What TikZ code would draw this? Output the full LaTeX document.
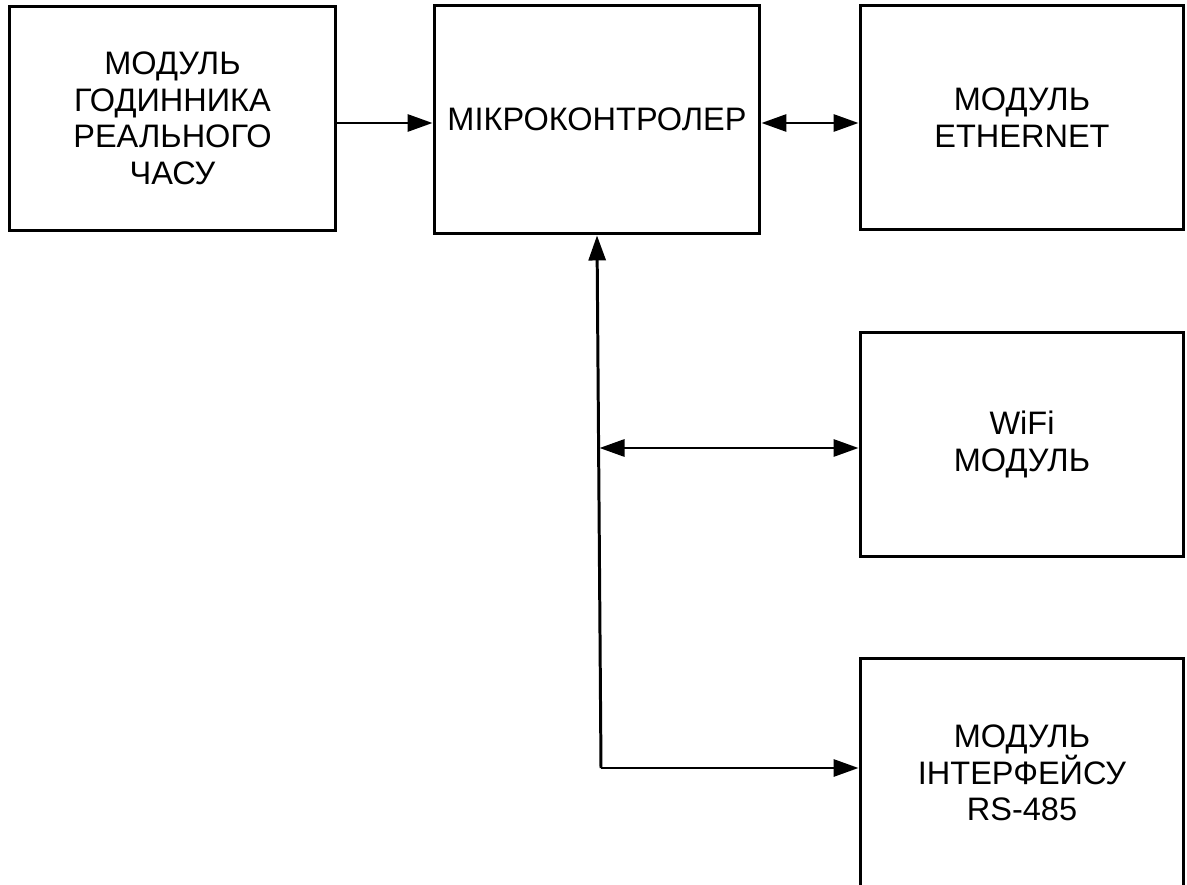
\documentclass[tikz,border=0pt]{standalone}
\usepackage{fontspec}
\setmainfont{Liberation Sans}
\usepackage{tikz}
\usetikzlibrary{arrows.meta, positioning}

\begin{document}
\begin{tikzpicture}[x=0.02cm, y=-0.02cm,
		block/.style={draw, line width=1.7pt, rectangle, align=center, inner sep=0pt,
			font=\fontsize{18.5}{20.8}\selectfont},
		link/.style={line width=1.7pt, -{Triangle[length=0.5cm, width=0.34cm]}},
		bothlink/.style={line width=1.7pt, {Triangle[length=0.5cm, width=0.34cm]}-{Triangle[length=0.5cm, width=0.34cm]}}]
		\useasboundingbox (0,0) rectangle (1187,885);
		\clip (0,0) rectangle (1187,885);
		% blocks
		\node [block, minimum width=6.54cm, minimum height=4.5cm] (rtc) at (172.5,118.5) {МОДУЛЬ\\ГОДИННИКА\\РЕАЛЬНОГО\\ЧАСУ};
		\node [block, minimum width=6.52cm, minimum height=4.58cm] (mcu) at (597,119.5) {МІКРОКОНТРОЛЕР};
		\node [block, minimum width=6.48cm, minimum height=4.5cm] (eth) at (1022,117.5) {МОДУЛЬ\\ETHERNET};
		\node [block, minimum width=6.48cm, minimum height=4.5cm] (wifi) at (1022,444.5) {WiFi\\МОДУЛЬ};
		\node [block, minimum width=6.48cm, minimum height=4.6cm] (rs) at (1022,773) {МОДУЛЬ\\ІНТЕРФЕЙСУ\\RS-485};
		% bus
		\coordinate (bus) at (601,768);
		\coordinate (tap) at (599.5,448);
		\coordinate (out) at ([yshift=-0.09cm]rtc.east);
		\coordinate (mid) at ([yshift=-0.07cm]mcu.east);
		\draw [link] (out) -- (out -| mcu.west);
		\draw [bothlink] (mid) -- (mid -| eth.west);
		\draw [link] (bus) -- (mcu.south);
		\draw [bothlink] (tap) -- (tap -| wifi.west);
		\draw [link] (bus) -- (bus -| rs.west);
	\end{tikzpicture}
\end{document}
